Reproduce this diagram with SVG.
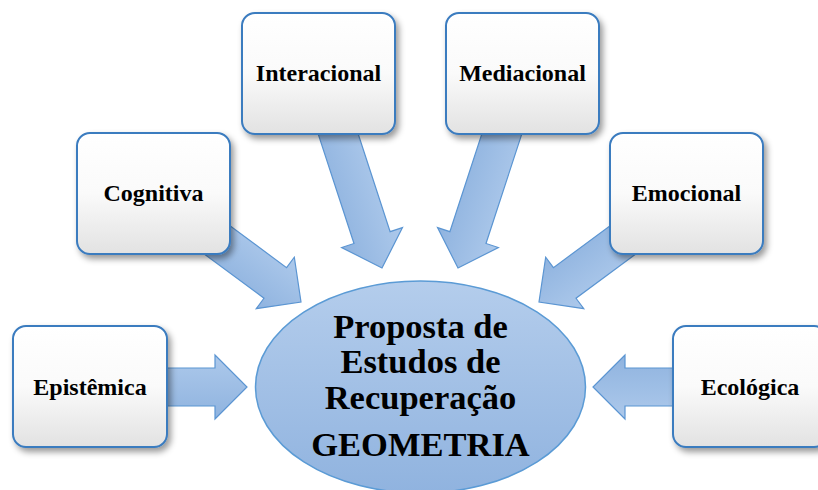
<svg xmlns="http://www.w3.org/2000/svg" xmlns:xlink="http://www.w3.org/1999/xlink" width="818" height="490" viewBox="0 0 818 490">
<defs>
<style>
.box{fill:url(#boxGrad);stroke:#3a7bbf;stroke-width:2;filter:url(#shadow)}
.lbl{font-family:"Liberation Serif","Times New Roman",serif;font-weight:bold;font-size:24px;fill:#000;text-anchor:middle}
.big{font-family:"Liberation Serif","Times New Roman",serif;font-weight:bold;font-size:34.5px;fill:#000;text-anchor:middle}
.arr{fill:url(#arrGrad);stroke:#5b95d2;stroke-width:1.2}
</style>
<linearGradient id="boxGrad" x1="0" y1="0" x2="0" y2="1">
<stop offset="0" stop-color="#ffffff"/>
<stop offset="0.5" stop-color="#fafafa"/>
<stop offset="1" stop-color="#e2e2e2"/>
</linearGradient>
<linearGradient id="arrGrad" x1="0" y1="0" x2="0" y2="1">
<stop offset="0" stop-color="#adc9eb"/>
<stop offset="1" stop-color="#8fb3df"/>
</linearGradient>
<linearGradient id="ellGrad" x1="0" y1="0" x2="0" y2="1">
<stop offset="0" stop-color="#b4cdec"/>
<stop offset="1" stop-color="#90b3df"/>
</linearGradient>
<filter id="shadow" x="-20%" y="-20%" width="150%" height="150%">
<feDropShadow dx="3" dy="4" stdDeviation="3" flood-color="#000" flood-opacity="0.4"/>
</filter>
<path id="arrow" d="M-150,-19 L-32,-19 L-32,-32 L0,0 L-32,32 L-32,19 L-150,19 Z"/>
</defs>

<g id="connectors">
<use xlink:href="#arrow" class="arr" transform="translate(247,387)"/>
<use xlink:href="#arrow" class="arr" transform="translate(301,302) rotate(36.5)"/>
<use xlink:href="#arrow" class="arr" transform="translate(382,268) rotate(71.9)"/>
<use xlink:href="#arrow" class="arr" transform="translate(458,268) rotate(108.1)"/>
<use xlink:href="#arrow" class="arr" transform="translate(539,302) rotate(143.5)"/>
<use xlink:href="#arrow" class="arr" transform="translate(593,387) rotate(180)"/>
</g>

<g id="center">
<ellipse cx="420.5" cy="387" rx="165" ry="106" fill="url(#ellGrad)" stroke="#5b9bd5" stroke-width="1.5"/>
<text class="big" x="420.5" y="338">Proposta de</text>
<text class="big" x="420.5" y="373">Estudos de</text>
<text class="big" x="420.5" y="409">Recuperação</text>
<text class="big" x="420.5" y="456">GEOMETRIA</text>
</g>

<g id="interacional">
<rect class="box" x="242" y="13" width="153" height="121" rx="13"/>
<text class="lbl" x="318.5" y="81">Interacional</text>
</g>
<g id="mediacional">
<rect class="box" x="446" y="13" width="153" height="121" rx="13"/>
<text class="lbl" x="522.5" y="81">Mediacional</text>
</g>
<g id="cognitiva">
<rect class="box" x="77" y="133" width="153" height="121" rx="13"/>
<text class="lbl" x="153.5" y="201">Cognitiva</text>
</g>
<g id="emocional">
<rect class="box" x="610" y="133" width="153" height="121" rx="13"/>
<text class="lbl" x="686.5" y="201">Emocional</text>
</g>
<g id="epistemica">
<rect class="box" x="13" y="326" width="154" height="121" rx="13"/>
<text class="lbl" x="90" y="395">Epistêmica</text>
</g>
<g id="ecologica">
<rect class="box" x="673" y="326" width="154" height="121" rx="13"/>
<text class="lbl" x="750" y="395">Ecológica</text>
</g>
</svg>
